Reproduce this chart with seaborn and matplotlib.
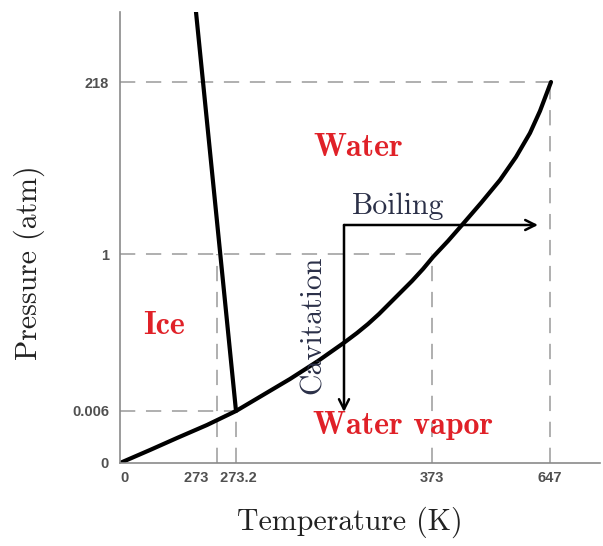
import matplotlib
matplotlib.use("Agg")
import matplotlib.pyplot as plt
import seaborn as sns
import pandas as pd

# schematic (not to scale) phase diagram of water
# positions on the schematic axes and the value each one stands for
temp_pos = [0, 97, 116, 312, 430]
temp_labels = ["0", "273", "273.2", "373", "647"]
pres_pos = [0, 52, 209, 381]
pres_labels = ["0", "0.006", "1", "218"]

# liquid-vapour curve (schematic units)
vap_x = [0, 30, 57, 87, 116, 143, 170, 198, 225, 237, 248, 259, 270, 281, 292, 303, 313, 328, 342, 361, 380, 396, 410, 420, 431]
vap_y = [0, 13, 25, 38, 52, 68, 84, 102, 121, 130, 139, 149, 160, 171, 182, 194, 206, 222, 238, 260, 283, 306, 330, 352, 381]

# solid-liquid line from triple point upward
melt_x = [116, 76]
melt_y = [52, 451]

# process arrows
start_pt = (224, 238)
boil_end = (418, 238)
cav_end = (224, 51)

red = "#e02128"

sns.set_style("white")
fig = plt.figure(figsize=(6.03, 5.46), dpi=100)
ax = fig.add_axes([120 / 603, 83 / 546, 480 / 603, 451 / 546])

vap = pd.DataFrame({"x": vap_x, "y": vap_y})
melt = pd.DataFrame({"x": melt_x, "y": melt_y})
sns.lineplot(data=vap, x="x", y="y", sort=False, color="black", lw=3, ax=ax)
sns.lineplot(data=melt, x="x", y="y", sort=False, color="black", lw=3, ax=ax)

# dashed guide lines
dash = dict(color="#9a9a9a", lw=1.1, ls=(0, (10, 7)), zorder=0)
ax.plot([0, temp_pos[4]], [pres_pos[3], pres_pos[3]], **dash)
ax.plot([0, temp_pos[3]], [pres_pos[2], pres_pos[2]], **dash)
ax.plot([0, temp_pos[2]], [pres_pos[1], pres_pos[1]], **dash)
ax.plot([temp_pos[1], temp_pos[1]], [0, pres_pos[2]], **dash)
ax.plot([temp_pos[2], temp_pos[2]], [0, pres_pos[1]], **dash)
ax.plot([temp_pos[3], temp_pos[3]], [0, pres_pos[2] - 10], **dash)
ax.plot([temp_pos[4], temp_pos[4]], [0, pres_pos[3]], **dash)

arr = dict(arrowstyle="->", color="black", lw=1.8, mutation_scale=18, shrinkA=0, shrinkB=0)
ax.annotate("", xy=boil_end, xytext=start_pt, arrowprops=arr)
ax.annotate("", xy=cav_end, xytext=start_pt, arrowprops=arr)

lab = dict(family="cmb10", color=red, fontsize=23, ha="left", va="center")
ax.text(193, 315, "Water", **lab)
ax.text(23, 137, "Ice", **lab)
ax.text(193, 38, "Water vapor", **lab)
ax.text(232, 257, "Boiling", family="cmr10", color="#2b3048", fontsize=21.5, ha="left", va="center")
ax.text(193, 138, "Cavitation", family="cmr10", color="#2b3048", fontsize=21.5,
        rotation=90, ha="center", va="center")

ax.set_xlim(0, 480)
ax.set_ylim(0, 451)
ax.set_xticks(temp_pos)
# "273" sits left of its tick so it clears "273.2"
shown = [temp_labels[0], temp_labels[1] + "  ", " " + temp_labels[2]] + temp_labels[3:]
ax.set_xticklabels(shown)
ax.set_yticks(pres_pos)
ax.set_yticklabels(pres_labels)
for t in ax.get_xticklabels() + ax.get_yticklabels():
    t.set_family("Liberation Sans")
    t.set_fontweight("bold")
    t.set_fontsize(10.5)
    t.set_color("#505050")
xt = ax.get_xticklabels()
xt[0].set_ha("left")
xt[1].set_ha("right")
ax.tick_params(axis="x", length=0, pad=6)
ax.tick_params(axis="y", length=5, width=1, color="#8a8a8a", pad=3)

ax.set_xlabel("Temperature (K)", family="cmr10", fontsize=21.5, color="#222222", va="center")
ax.set_ylabel("Pressure (atm)", family="cmr10", fontsize=21.5, color="#222222", va="center")
ax.xaxis.set_label_coords(0.479, -0.131)
ax.yaxis.set_label_coords(-0.19, 0.445)

for s in ["top", "right"]:
    ax.spines[s].set_visible(False)
for s in ["left", "bottom"]:
    ax.spines[s].set_color("#8a8a8a")
    ax.spines[s].set_linewidth(1.2)

fig.savefig("out.png", dpi=100)
